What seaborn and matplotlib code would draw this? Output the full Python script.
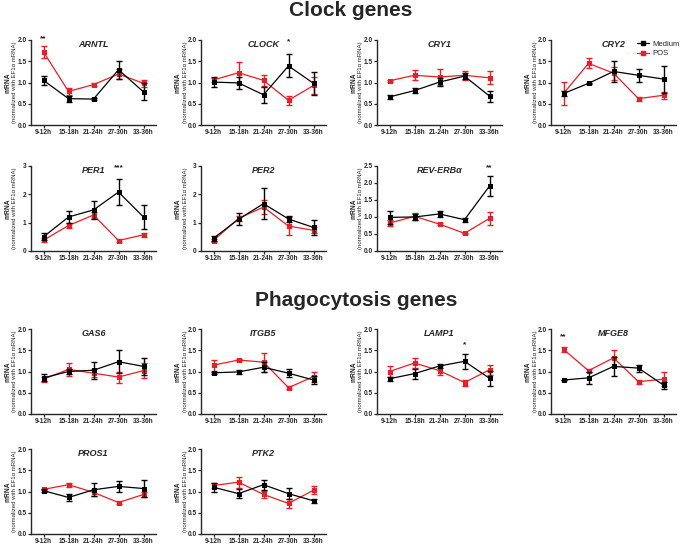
import numpy as np
import pandas as pd
import seaborn as sns
import matplotlib.pyplot as plt
from matplotlib.lines import Line2D

sns.set_theme(style="ticks")
plt.rcParams['font.family'] = ['Liberation Sans', 'DejaVu Sans']

tempos = ["9-12h", "15-18h", "21-24h", "27-30h", "33-36h"]
grupos = ["Medium", "POS"]
cores = {"Medium": "#000000", "POS": "#ee1c24"}

# médias e SEM (Medium / POS)
arntl_med = [1.05, 0.62, 0.61, 1.30, 0.78]
arntl_med_sem = [0.10, 0.07, 0.02, 0.21, 0.20]
arntl_pos = [1.72, 0.79, 0.95, 1.20, 0.98]
arntl_pos_sem = [0.15, 0.08, 0.03, 0.11, 0.08]

clock_med = [1.01, 0.99, 0.71, 1.39, 0.98]
clock_med_sem = [0.11, 0.14, 0.19, 0.27, 0.27]
clock_pos = [1.06, 1.23, 1.05, 0.58, 0.93]
clock_pos_sem = [0.05, 0.26, 0.13, 0.10, 0.20]

cry1_med = [0.66, 0.81, 1.01, 1.15, 0.68]
cry1_med_sem = [0.04, 0.05, 0.10, 0.07, 0.13]
cry1_pos = [1.04, 1.17, 1.13, 1.17, 1.11]
cry1_pos_sem = [0.02, 0.12, 0.18, 0.10, 0.15]

cry2_med = [0.74, 0.98, 1.26, 1.17, 1.08]
cry2_med_sem = [0.05, 0.02, 0.25, 0.15, 0.32]
cry2_pos = [0.74, 1.45, 1.22, 0.62, 0.70]
cry2_pos_sem = [0.27, 0.12, 0.15, 0.05, 0.08]

per1_med = [0.50, 1.20, 1.45, 2.08, 1.20]
per1_med_sem = [0.12, 0.20, 0.33, 0.47, 0.43]
per1_pos = [0.38, 0.90, 1.27, 0.37, 0.57]
per1_pos_sem = [0.08, 0.10, 0.10, 0.05, 0.07]

per2_med = [0.45, 1.12, 1.67, 1.13, 0.83]
per2_med_sem = [0.08, 0.22, 0.55, 0.12, 0.27]
per2_pos = [0.37, 1.15, 1.55, 0.88, 0.73]
per2_pos_sem = [0.05, 0.10, 0.25, 0.33, 0.10]

reverb_med = [0.99, 1.00, 1.09, 0.92, 1.91]
reverb_med_sem = [0.20, 0.10, 0.08, 0.06, 0.30]
reverb_pos = [0.82, 1.02, 0.79, 0.52, 0.96]
reverb_pos_sem = [0.08, 0.10, 0.02, 0.02, 0.20]

gas6_med = [0.85, 1.00, 1.03, 1.23, 1.12]
gas6_med_sem = [0.08, 0.07, 0.20, 0.27, 0.20]
gas6_pos = [0.82, 1.05, 0.96, 0.87, 1.02]
gas6_pos_sem = [0.06, 0.15, 0.10, 0.13, 0.18]

itgb5_med = [0.97, 0.99, 1.10, 0.96, 0.80]
itgb5_med_sem = [0.02, 0.04, 0.12, 0.09, 0.10]
itgb5_pos = [1.15, 1.27, 1.22, 0.62, 0.88]
itgb5_pos_sem = [0.13, 0.02, 0.22, 0.04, 0.12]

lamp1_med = [0.83, 0.95, 1.13, 1.24, 0.84]
lamp1_med_sem = [0.05, 0.12, 0.04, 0.17, 0.17]
lamp1_pos = [1.00, 1.20, 1.02, 0.74, 1.04]
lamp1_pos_sem = [0.12, 0.12, 0.10, 0.07, 0.12]

mfge8_med = [0.80, 0.85, 1.12, 1.08, 0.68]
mfge8_med_sem = [0.01, 0.14, 0.22, 0.08, 0.08]
mfge8_pos = [1.52, 1.02, 1.32, 0.76, 0.82]
mfge8_pos_sem = [0.05, 0.03, 0.18, 0.05, 0.17]

pros1_med = [1.02, 0.86, 1.04, 1.12, 1.07]
pros1_med_sem = [0.03, 0.08, 0.15, 0.12, 0.20]
pros1_pos = [1.05, 1.16, 0.98, 0.74, 0.93]
pros1_pos_sem = [0.02, 0.05, 0.08, 0.04, 0.06]

ptk2_med = [1.10, 0.95, 1.16, 0.95, 0.78]
ptk2_med_sem = [0.10, 0.10, 0.12, 0.13, 0.05]
ptk2_pos = [1.14, 1.22, 0.93, 0.72, 1.03]
ptk2_pos_sem = [0.05, 0.13, 0.08, 0.10, 0.10]

# (posição no eixo x, altura, texto) das marcas de significância
arntl_estrela = (0, 2.02, "**")
clock_estrela = (3, 1.95, "*")
per1_estrela = (3, 2.95, "***")
reverb_estrela = (4, 2.45, "**")
lamp1_estrela = (3, 1.62, "*")
mfge8_estrela = (0, 1.82, "**")

W, H = 685, 546
col_x = [31, 201, 377, 551]
larg, alt = 125, 85


def plot_painel(fig, left, top, nome, med, med_sem, pos, pos_sem,
                ymax=2.0, passo=0.5, fmt="{:.1f}", estrela=None):
    ax = fig.add_axes([left / W, 1 - (top + alt) / H, larg / W, alt / H])

    df = pd.DataFrame({'tempo': list(range(5)) * 2,
                       'valor': med + pos,
                       'sem': med_sem + pos_sem,
                       'grupo': ['Medium'] * 5 + ['POS'] * 5})

    for g in ['POS', 'Medium']:
        sub = df[df.grupo == g]
        ax.errorbar(sub.tempo, sub.valor, yerr=sub['sem'], fmt='none',
                    ecolor=cores[g], elinewidth=1.0, capsize=2,
                    capthick=1.0, zorder=2 if g == 'POS' else 4)

    sns.lineplot(data=df, x='tempo', y='valor', hue='grupo',
                 hue_order=['POS', 'Medium'], style='grupo',
                 markers={'Medium': 's', 'POS': 's'}, dashes=False,
                 palette=cores, markersize=3.6, linewidth=0.9,
                 markeredgewidth=0, legend=False, ax=ax)

    sns.despine(ax=ax, top=True, right=True)
    ax.set_xlim(-0.5, 4.5)
    ax.set_ylim(0, ymax)
    ax.set_xticks(range(5))
    ax.set_xticklabels(tempos, fontsize=4.7, fontweight='bold')
    yt = np.arange(0, ymax + 1e-9, passo)
    ax.set_yticks(yt)
    ax.set_yticklabels([fmt.format(v) for v in yt], fontsize=4.7,
                       fontweight='bold')
    ax.tick_params(length=2, width=0.9, pad=1.2)
    for s in ['left', 'bottom']:
        ax.spines[s].set_linewidth(1.0)
    ax.set_xlabel('')
    ax.set_ylabel('')

    ax.text(0.5, 0.95, nome, transform=ax.transAxes, ha='center', va='center',
            fontsize=6.5, fontweight='bold', style='italic')

    if estrela is not None:
        ax.text(estrela[0], estrela[1], estrela[2], ha='center', va='center',
                fontsize=6, fontweight='bold', clip_on=False)

    yc = 1 - (top + alt / 2) / H
    fig.text((left - 23) / W, yc, 'mRNA', rotation=90, ha='center',
             va='center', fontsize=4.8, fontweight='bold')
    fig.text((left - 16) / W, yc, '(normalized with EF1\u03b1 mRNA)',
             rotation=90, ha='center', va='center', fontsize=4.3)
    return ax


fig = plt.figure(figsize=(W / 100, H / 100), dpi=100)

fig.text(351 / W, 1 - 11 / H, 'Clock genes', ha='center', va='center',
         fontsize=15, fontweight='bold')
fig.text(356 / W, 1 - 300 / H, 'Phagocytosis genes', ha='center',
         va='center', fontsize=15, fontweight='bold')

# genes do relógio
plot_painel(fig, col_x[0], 40, 'ARNTL', arntl_med, arntl_med_sem,
            arntl_pos, arntl_pos_sem, estrela=arntl_estrela)
plot_painel(fig, col_x[1], 40, 'CLOCK', clock_med, clock_med_sem,
            clock_pos, clock_pos_sem, estrela=clock_estrela)
plot_painel(fig, col_x[2], 40, 'CRY1', cry1_med, cry1_med_sem,
            cry1_pos, cry1_pos_sem)
plot_painel(fig, col_x[3], 40, 'CRY2', cry2_med, cry2_med_sem,
            cry2_pos, cry2_pos_sem)
plot_painel(fig, col_x[0], 166, 'PER1', per1_med, per1_med_sem,
            per1_pos, per1_pos_sem, ymax=3, passo=1, fmt="{:.0f}",
            estrela=per1_estrela)
plot_painel(fig, col_x[1], 166, 'PER2', per2_med, per2_med_sem,
            per2_pos, per2_pos_sem, ymax=3, passo=1, fmt="{:.0f}")
plot_painel(fig, col_x[2], 166, 'REV-ERB\u03b1', reverb_med, reverb_med_sem,
            reverb_pos, reverb_pos_sem, ymax=2.5, estrela=reverb_estrela)

# genes de fagocitose
plot_painel(fig, col_x[0], 329, 'GAS6', gas6_med, gas6_med_sem,
            gas6_pos, gas6_pos_sem)
plot_painel(fig, col_x[1], 329, 'ITGB5', itgb5_med, itgb5_med_sem,
            itgb5_pos, itgb5_pos_sem)
plot_painel(fig, col_x[2], 329, 'LAMP1', lamp1_med, lamp1_med_sem,
            lamp1_pos, lamp1_pos_sem, estrela=lamp1_estrela)
plot_painel(fig, col_x[3], 329, 'MFGE8', mfge8_med, mfge8_med_sem,
            mfge8_pos, mfge8_pos_sem, estrela=mfge8_estrela)
plot_painel(fig, col_x[0], 449, 'PROS1', pros1_med, pros1_med_sem,
            pros1_pos, pros1_pos_sem)
plot_painel(fig, col_x[1], 449, 'PTK2', ptk2_med, ptk2_med_sem,
            ptk2_pos, ptk2_pos_sem)

handles = [Line2D([], [], color=cores[g], marker='s', markersize=3.2,
                  linewidth=0.9) for g in grupos]
fig.legend(handles, grupos, loc='upper left',
           bbox_to_anchor=(633 / W, 1 - 37 / H), frameon=False,
           fontsize=5.5, handlelength=1.6, handletextpad=0.4,
           labelspacing=0.25, borderpad=0)

fig.savefig('out.png', dpi=100)
